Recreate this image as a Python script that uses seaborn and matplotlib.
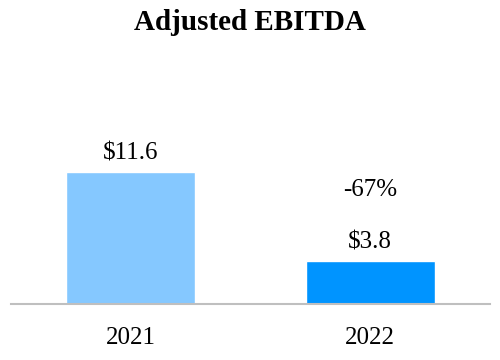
import matplotlib
matplotlib.use("Agg")
import matplotlib.pyplot as plt
import seaborn as sns
import pandas as pd

# chart values
years = ["2021", "2022"]
ebitda = [11.6, 3.8]
value_labels = ["$11.6", "$3.8"]
change_label = "-67%"
bar_colors = ["#85C8FF", "#0094FF"]

sns.set_style("white")
plt.rcParams["font.family"] = ["Liberation Serif", "DejaVu Serif"]
plt.rcParams["text.color"] = "black"
plt.rcParams["xtick.color"] = "black"

df = pd.DataFrame({"Year": years, "EBITDA": ebitda})

fig = plt.figure(figsize=(5, 3.6), dpi=100)
ax = fig.add_axes([0.022, 0.156, 0.958, 0.633])

sns.barplot(data=df, x="Year", y="EBITDA", hue="Year", palette=bar_colors,
            width=0.54, legend=False, saturation=1, ax=ax)

for i, (val, lab) in enumerate(zip(ebitda, value_labels)):
    ax.annotate(lab, (i, val), xytext=(0, 5), textcoords="offset points",
                ha="center", va="bottom", fontsize=18)

ax.text(1, 10.0, change_label, ha="center", va="center", fontsize=18)

ax.set_xlim(-0.5, 1.5)
ax.set_ylim(0, 20)
ax.set_xlabel("")
ax.set_ylabel("")
ax.set_yticks([])
ax.tick_params(axis="x", length=0, pad=17, labelsize=18)
for side in ["top", "right", "left"]:
    ax.spines[side].set_visible(False)
ax.spines["bottom"].set_color("#BFBFBF")
ax.spines["bottom"].set_linewidth(1.5)

fig.suptitle("Adjusted EBITDA", fontsize=21, fontweight="bold", y=0.975)

fig.savefig("out.png", dpi=100)
